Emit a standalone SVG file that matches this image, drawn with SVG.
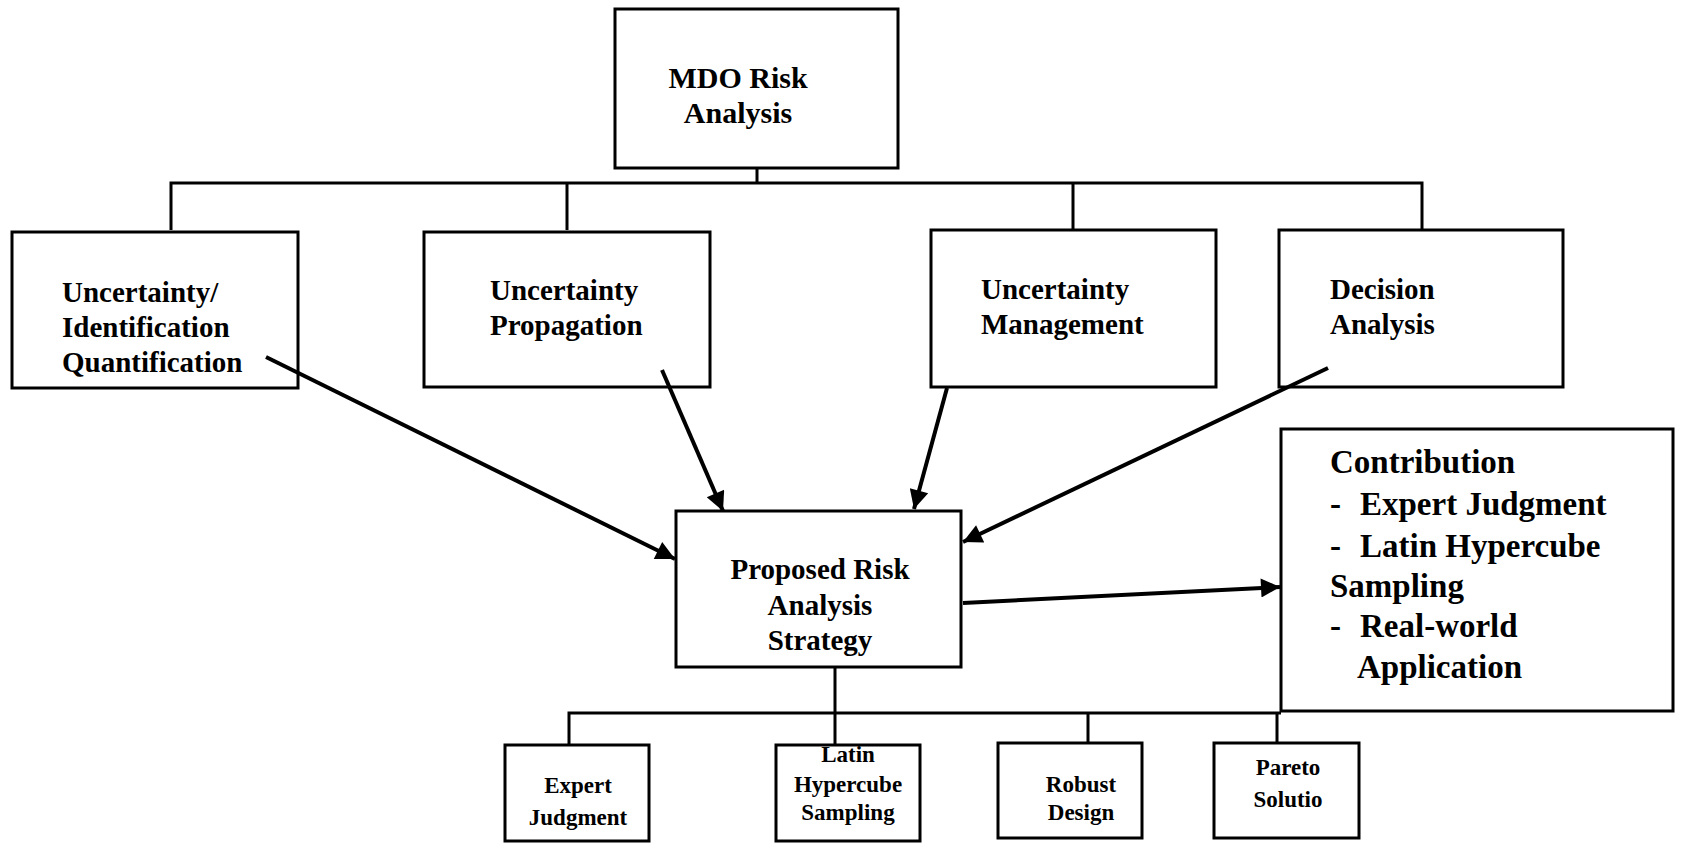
<svg xmlns="http://www.w3.org/2000/svg" width="1684" height="843" viewBox="0 0 1684 843">
<style>
.box{fill:#fff;stroke:#000;stroke-width:3}
.ln{fill:none;stroke:#000;stroke-width:3}
.ar{fill:none;stroke:#000;stroke-width:4}
text{font-family:"Liberation Serif","Times New Roman",serif;font-weight:bold;fill:#000}
.t29{font-size:29px}
.t30{font-size:30px}
.t33{font-size:33px}
.t23{font-size:23px}
.c{text-anchor:middle}
</style>
<defs>
<marker id="ah" viewBox="0 0 10 10" refX="10" refY="5" markerUnits="userSpaceOnUse" markerWidth="23" markerHeight="19" orient="auto">
<path d="M0,0 L10,5 L0,10 z" fill="#000"/>
</marker>
</defs>
<rect width="1684" height="843" fill="#fff"/>
<g id="mdo">
<rect class="box" x="615" y="9" width="283" height="159"/>
<text class="t30 c" x="738" y="88">MDO Risk</text>
<text class="t30 c" x="738" y="123">Analysis</text>
</g>
<g id="uiq">
<rect class="box" x="12" y="232" width="286" height="156"/>
<text class="t29" x="62" y="302">Uncertainty/</text>
<text class="t29" x="62" y="337">Identification</text>
<text class="t29" x="62" y="372">Quantification</text>
</g>
<g id="up">
<rect class="box" x="424" y="232" width="286" height="155"/>
<text class="t29" x="490" y="300">Uncertainty</text>
<text class="t29" x="490" y="335">Propagation</text>
</g>
<g id="um">
<rect class="box" x="931" y="230" width="285" height="157"/>
<text class="t29" x="981" y="299">Uncertainty</text>
<text class="t29" x="981" y="334">Management</text>
</g>
<g id="da">
<rect class="box" x="1279" y="230" width="284" height="157"/>
<text class="t29" x="1330" y="299">Decision</text>
<text class="t29" x="1330" y="334">Analysis</text>
</g>
<g id="proposed">
<rect class="box" x="676" y="511" width="285" height="156"/>
<text class="t29 c" x="820" y="579">Proposed Risk</text>
<text class="t29 c" x="820" y="615">Analysis</text>
<text class="t29 c" x="820" y="650">Strategy</text>
</g>
<g id="contribution">
<rect class="box" x="1281" y="429" width="392" height="282"/>
<text class="t33" x="1330" y="473">Contribution</text>
<text class="t33" x="1330" y="515">-</text>
<text class="t33" x="1360" y="515">Expert Judgment</text>
<text class="t33" x="1330" y="557">-</text>
<text class="t33" x="1360" y="557">Latin Hypercube</text>
<text class="t33" x="1330" y="597">Sampling</text>
<text class="t33" x="1330" y="637">-</text>
<text class="t33" x="1360" y="637">Real-world</text>
<text class="t33" x="1357" y="678">Application</text>
</g>
<g id="expert">
<rect class="box" x="505" y="745" width="144" height="96"/>
<text class="t23 c" x="578" y="793">Expert</text>
<text class="t23 c" x="578" y="825">Judgment</text>
</g>
<g id="latin">
<rect class="box" x="776" y="745" width="144" height="96"/>
<text class="t23 c" x="848" y="762">Latin</text>
<text class="t23 c" x="848" y="792">Hypercube</text>
<text class="t23 c" x="848" y="820">Sampling</text>
</g>
<g id="robust">
<rect class="box" x="998" y="743" width="144" height="95"/>
<text class="t23 c" x="1081" y="792">Robust</text>
<text class="t23 c" x="1081" y="820">Design</text>
</g>
<g id="pareto">
<rect class="box" x="1214" y="743" width="145" height="95"/>
<text class="t23 c" x="1288" y="775">Pareto</text>
<text class="t23 c" x="1288" y="807">Solutio</text>
</g>
<g id="connectors">
<path class="ln" d="M757,168 V183 M171,230 V183 H1422 V230 M567,183 V230 M1073,183 V230"/>
<path class="ln" d="M835,667 V745 M569,745 V713 H1281 M1088,713 V743 M1277,713 V743"/>
<line class="ar" x1="266" y1="357" x2="675" y2="559" marker-end="url(#ah)"/>
<line class="ar" x1="662" y1="370" x2="723" y2="511" marker-end="url(#ah)"/>
<line class="ar" x1="947" y1="388" x2="914" y2="509" marker-end="url(#ah)"/>
<line class="ar" x1="1328" y1="368" x2="963" y2="542" marker-end="url(#ah)"/>
<line class="ar" x1="963" y1="603" x2="1280" y2="587" marker-end="url(#ah)"/>
</g>
</svg>
